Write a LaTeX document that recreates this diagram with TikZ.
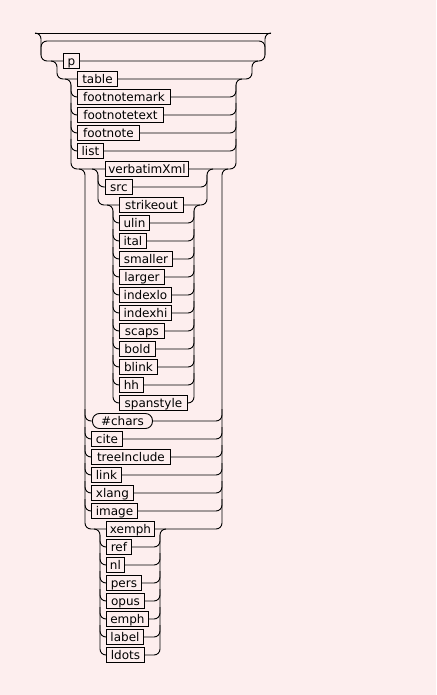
\documentclass[tikz,border=0pt]{standalone}
\usepackage{fontspec}
\setmainfont{DejaVu Sans}
\usepackage{tikz}
\definecolor{bgpink}{RGB}{253,238,238}
\tikzset{alt/.style={draw,anchor=west,inner sep=0pt,minimum height=15,text height=12pt,text depth=2.5pt,font=\fontsize{12}{14}\selectfont},
rail/.style={rounded corners=6pt}}

\begin{document}
\begin{tikzpicture}[x=1pt,y=-1pt,line width=0.9pt]
\fill[bgpink] (0,0) rectangle (436,695);
\useasboundingbox (0,0) rectangle (436,695);

\node[alt,minimum width=16] (r0) at (63,61) {p};
\foreach \k/\x/\w/\t in {1/77/40/table,2/77/93/footnotemark,3/77/86/footnotetext,4/77/62/footnote,5/77/26/list,
 6/105/83/verbatimXml,7/105/27/src,8/119/64/strikeout,9/119/30/ulin,10/119/27/ital,11/119/53/smaller,12/119/45/larger,
 13/119/52/indexlo,14/119/52/indexhi,15/119/45/scaps,16/119/36/bold,17/119/38/blink,18/119/24/hh,19/119/68/spanstyle,
 21/91/31/cite,22/91/79/treeInclude,23/91/30/link,24/91/42/xlang,25/91/46/image,26/106/48/xemph,
 27/106/25/ref,28/106/18/nl,29/106/35/pers,30/106/38/opus,31/106/42/emph,32/106/37/label,33/106/38/ldots}
{ \node[alt,minimum width=\w] (r\k) at (\x,{61+18*\k}) {\t}; }
\node[alt,rounded corners=7pt,minimum width=60] (r20) at (92,421) {\#chars};

% loop
\draw (35,33) -- (271,33);
\draw[rail] (35,33) -| (41,61) -- (r0.west);
\draw[rail] (r0.east) -| (265,33) -- (271,33);
\draw[rail] (41,55) |- (150,41) -| (265,55);

\draw[rail] (51,61) -| (57,79) -- (r1.west);
\draw[rail] (r1.east) -| (252,61) -- (258,61);

% table .. list
\draw[rail] (65,79) -| (71,169) -- (r6.west);
\draw[rail] (r6.east) -| (236,79) -- (242,79);
\foreach \k in {2,...,5}{ \draw[rail] (71,{49+18*\k}) |- (r\k.west); \draw[rail] (r\k.east) -| (236,{49+18*\k}); }

% #chars .. xemph
\draw[rail] (79,169) -| (85,529) -- (r26.west);
\draw[rail] (r26.east) -| (222,169) -- (228,169);
\foreach \k in {20,...,25}{ \draw[rail] (85,{49+18*\k}) |- (r\k.west); \draw[rail] (r\k.east) -| (222,{49+18*\k}); }

% src, strikeout
\draw[rail] (92,169) -| (98,205) -- (r8.west);
\draw[rail] (r8.east) -| (207,169) -- (213,169);
\draw[rail] (98,175) |- (r7.west); \draw[rail] (r7.east) -| (207,175);

% ulin .. spanstyle
\draw[rail] (107,205) -| (113,403) -- (r19.west);
\draw[rail] (r19.east) -| (194,205) -- (200,205);
\foreach \k in {9,...,18}{ \draw[rail] (113,{49+18*\k}) |- (r\k.west); \draw[rail] (r\k.east) -| (194,{49+18*\k}); }

% ref .. ldots
\draw[rail] (94,529) -| (100,655) -- (r33.west);
\draw[rail] (r33.east) -| (160,529) -- (166,529);
\foreach \k in {27,...,32}{ \draw[rail] (100,{49+18*\k}) |- (r\k.west); \draw[rail] (r\k.east) -| (160,{49+18*\k}); }
\end{tikzpicture}
\end{document}
